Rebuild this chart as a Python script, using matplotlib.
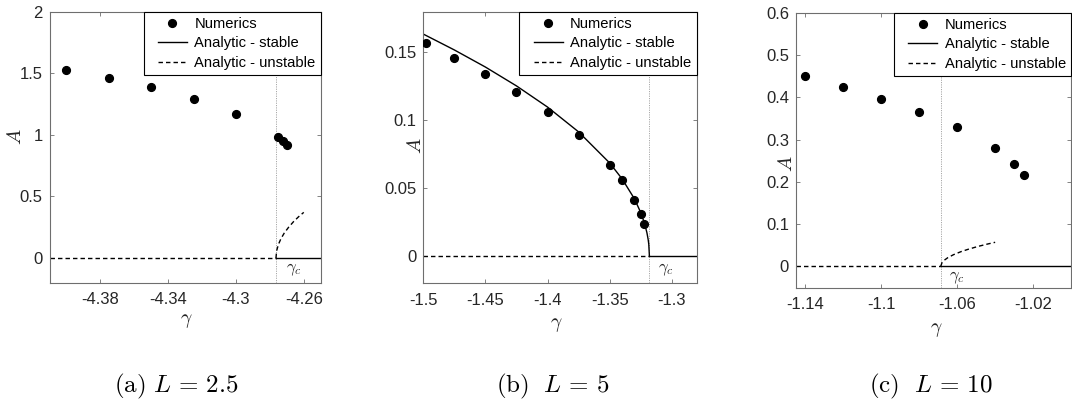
import matplotlib
matplotlib.use("Agg")
import matplotlib.pyplot as plt
from matplotlib.legend_handler import HandlerLine2D

plt.rcParams['font.family'] = ['Liberation Sans', 'DejaVu Sans']
plt.rcParams['mathtext.fontset'] = 'cm'
plt.rcParams['axes.unicode_minus'] = False

# ---------------- data ----------------
# (a) L = 2.5
a_num_gamma = [-4.400, -4.375, -4.350, -4.325, -4.300, -4.275, -4.2725, -4.270]
a_num_A = [1.530, 1.460, 1.387, 1.294, 1.172, 0.986, 0.953, 0.918]
a_gamma_c = -4.2764
a_unst_gamma = [-4.2764, -4.2760, -4.2750, -4.2735, -4.2715, -4.2690, -4.2660, -4.2630, -4.2600]
a_unst_A = [0.0, 0.058, 0.109, 0.156, 0.203, 0.249, 0.296, 0.336, 0.371]
a_stab_gamma = []
a_stab_A = []
a_xlim = (-4.41, -4.25)
a_ylim = (-0.2, 2.0)
a_xticks = [-4.38, -4.34, -4.30, -4.26]
a_xticklabels = ['-4.38', '-4.34', '-4.3', '-4.26']
a_yticks = [0, 0.5, 1, 1.5, 2]
a_yticklabels = ['0', '0.5', '1', '1.5', '2']

# (b) L = 5
b_num_gamma = [-1.498, -1.475, -1.450, -1.425, -1.400, -1.375, -1.350, -1.340, -1.330, -1.325, -1.322]
b_num_A = [0.1566, 0.1456, 0.1338, 0.1208, 0.1061, 0.0890, 0.0671, 0.0556, 0.0409, 0.0311, 0.0232]
b_gamma_c = -1.318
b_stab_gamma = [-1.500, -1.475, -1.450, -1.425, -1.400, -1.375, -1.350, -1.340, -1.330,
                -1.325, -1.322, -1.320, -1.319, -1.3185, -1.318]
b_stab_A = [0.1635, 0.1518, 0.1392, 0.1253, 0.1097, 0.0914, 0.0685, 0.0568, 0.0420,
            0.0320, 0.0242, 0.0171, 0.0121, 0.0086, 0.0]
b_unst_gamma = []
b_unst_A = []
b_xlim = (-1.5, -1.28)
b_ylim = (-0.02, 0.18)
b_xticks = [-1.5, -1.45, -1.4, -1.35, -1.3]
b_xticklabels = ['-1.5', '-1.45', '-1.4', '-1.35', '-1.3']
b_yticks = [0, 0.05, 0.1, 0.15]
b_yticklabels = ['0', '0.05', '0.1', '0.15']

# (c) L = 10
c_num_gamma = [-1.140, -1.120, -1.100, -1.080, -1.060, -1.040, -1.030, -1.025]
c_num_A = [0.450, 0.424, 0.396, 0.364, 0.329, 0.280, 0.243, 0.215]
c_gamma_c = -1.0687
c_unst_gamma = [-1.0687, -1.0680, -1.0670, -1.0650, -1.0620, -1.0580, -1.0540, -1.0490, -1.0440, -1.0400]
c_unst_A = [0.0, 0.0089, 0.0139, 0.0204, 0.0275, 0.0348, 0.0407, 0.0472, 0.0528, 0.0569]
c_stab_gamma = []
c_stab_A = []
c_xlim = (-1.145, -1.0)
c_ylim = (-0.05, 0.6)
c_xticks = [-1.14, -1.10, -1.06, -1.02]
c_xticklabels = ['-1.14', '-1.1', '-1.06', '-1.02']
c_yticks = [0, 0.1, 0.2, 0.3, 0.4, 0.5, 0.6]
c_yticklabels = ['0', '0.1', '0.2', '0.3', '0.4', '0.5', '0.6']

captions = [r'$\mathrm{(a)}\ L \,=\, 2.5$', r'$\mathrm{(b)}\ \ L \,=\, 5$',
            r'$\mathrm{(c)}\ \ L \,=\, 10$']
legend_labels = ['Numerics', 'Analytic - stable', 'Analytic - unstable']

# ---------------- layout (pixels) ----------------
W, H = 1072, 403
fig = plt.figure(figsize=(W / 100, H / 100), dpi=100)

def px_axes(l, r, t, b):
    return fig.add_axes([l / W, 1 - b / H, (r - l) / W, (b - t) / H])

boxes = [(49.5, 320.7, 11.7, 282.7), (423.3, 696.6, 11.7, 283.0), (796.0, 1071.0, 12.7, 287.5)]
cap_pos = [(176, 386), (553, 386), (931, 386)]
xlab_pos = [(0.503, -0.14), (0.487, -0.155), (0.51, -0.155)]
ylab_pos = [(-0.124, 0.54), (-0.03, 0.505), (-0.036, 0.452)]
gc_off = [(10, -12), (9, -14), (8, -11)]


class ShiftedHandler(HandlerLine2D):
    def create_artists(self, legend, orig_handle, xdescent, ydescent, width, height,
                       fontsize, trans):
        shift = 0.24 * width
        return super().create_artists(legend, orig_handle, xdescent - shift, ydescent,
                                      width - shift, height, fontsize, trans)


panels = [
    (a_num_gamma, a_num_A, a_gamma_c, a_stab_gamma, a_stab_A, a_unst_gamma, a_unst_A,
     a_xlim, a_ylim, a_xticks, a_xticklabels, a_yticks, a_yticklabels),
    (b_num_gamma, b_num_A, b_gamma_c, b_stab_gamma, b_stab_A, b_unst_gamma, b_unst_A,
     b_xlim, b_ylim, b_xticks, b_xticklabels, b_yticks, b_yticklabels),
    (c_num_gamma, c_num_A, c_gamma_c, c_stab_gamma, c_stab_A, c_unst_gamma, c_unst_A,
     c_xlim, c_ylim, c_xticks, c_xticklabels, c_yticks, c_yticklabels),
]

spine_col = '#6e6e6e'
txt_col = '#262626'
dash = (3.2, 2.2)

for i, (ng, nA, gc, sg, sA, ug, uA, xl, yl, xt, xtl, yt, ytl) in enumerate(panels):
    ax = px_axes(*boxes[i])
    # critical value marker line
    ax.axvline(gc, color='#a8a8a8', lw=0.7, ls=(0, (1.2, 1.2)), zorder=1)
    # zero branches
    l_uns, = ax.plot([xl[0], gc], [0, 0], color='k', lw=1.0, ls=(0, dash), zorder=2)
    l_st, = ax.plot([gc, xl[1]], [0, 0], color='k', lw=1.0, zorder=2)
    if sg:
        ax.plot(sg, sA, color='k', lw=1.0, zorder=2)
    if ug:
        ax.plot(ug, uA, color='k', lw=1.0, ls=(0, dash), zorder=2)
    l_num, = ax.plot(ng, nA, 'o', color='k', ms=5.6, mec='k', zorder=3)

    ax.set_xlim(*xl)
    ax.set_ylim(*yl)
    ax.set_xticks(xt)
    ax.set_xticklabels(xtl)
    ax.set_yticks(yt)
    ax.set_yticklabels(ytl)
    ax.tick_params(direction='in', top=True, right=True, length=3, width=0.6,
                   color=spine_col, labelcolor=txt_col, labelsize=12)
    ax.tick_params(axis='x', pad=7)
    ax.tick_params(axis='y', pad=5)
    for s in ax.spines.values():
        s.set_color(spine_col)
        s.set_linewidth(0.8)

    ax.set_xlabel(r'$\gamma$', fontsize=14, color=txt_col)
    ax.xaxis.label.set_va('center')
    ax.xaxis.set_label_coords(*xlab_pos[i])
    ax.set_ylabel(r'$A$', fontsize=14.5, color=txt_col)
    ax.yaxis.label.set_va('center')
    ax.yaxis.set_label_coords(*ylab_pos[i])

    ax.annotate(r'$\gamma_c$', xy=(gc, 0), xytext=gc_off[i], textcoords='offset pixels',
                ha='left', va='center', fontsize=12, color=txt_col)

    leg = ax.legend([l_num, l_st, l_uns], legend_labels, loc='upper right',
                    borderaxespad=0, fancybox=False, framealpha=1, edgecolor='k',
                    fontsize=10.6, handlelength=2.6, handletextpad=0.5,
                    borderpad=0.35, labelspacing=0.38, numpoints=1,
                    handler_map={l_num: ShiftedHandler(), l_st: ShiftedHandler(),
                                 l_uns: ShiftedHandler()})
    leg.get_frame().set_linewidth(0.8)
    leg.set_zorder(5)

    fig.text(cap_pos[i][0] / W, 1 - cap_pos[i][1] / H, captions[i], ha='center',
             va='center', fontsize=18, color='k')

fig.savefig('out.png', dpi=100)
